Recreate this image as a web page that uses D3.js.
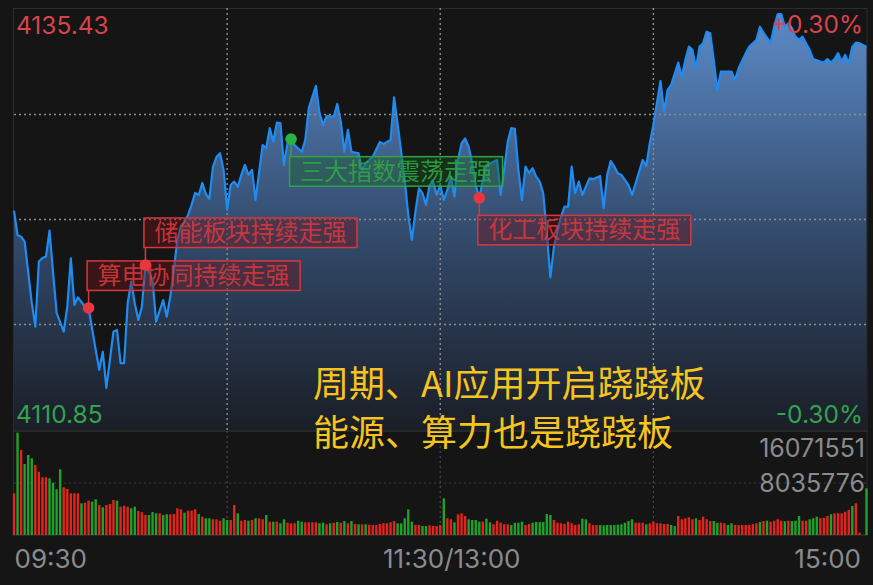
<!DOCTYPE html>
<html>
<head>
<meta charset="utf-8">
<script src="https://cdn.jsdelivr.net/npm/d3@7"></script>
<style>
html, body { margin: 0; padding: 0; background: #151515; }
svg { display: block; }
</style>
</head>
<body>
<div id="chart"></div>
<script>
// minute index: 0 = 09:30, 120 = 11:30/13:00, 240 = 15:00
const lineMinutes = [0,1,2,3,5,6,7,8,9,10,11,12,14,15,16,17,18,20,21,23,24,25,26,27,28,29,30,31,32,33,34,35,36,37,39,40,42,43,44,45,46,47,48,49,50,51,52,53,54,55,56,57,58,59,60,61,62,63,64,65,66,67,68,70,71,72,73,74,75,76,77,78,79,81,82,83,85,86,87,88,90,91,92,93,94,95,97,98,99,101,103,104,106,107,108,110,111,112,113,114,115,116,117,118,119,120,121,122,123,124,125,126,127,128,129,130,131,132,133,135,136,137,138,139,140,141,142,143,144,145,146,147,148,149,150,151,152,154,155,156,157,158,159,160,162,163,165,166,167,168,169,170,171,173,174,175,177,178,179,180,182,183,184,185,187,188,189,190,191,192,193,194,195,196,197,198,199,202,203,204,206,207,209,210,211,213,214,215,216,217,218,219,220,221,222,224,225,227,228,229,230,231,232,233,234,235,236,237,238,240];
const linePrices = [4123.63,4122.21,4122.11,4121.82,4118.25,4116.87,4120.66,4120.87,4120.95,4122.46,4120.00,4117.67,4116.58,4118.03,4120.85,4118.13,4118.58,4118.03,4117.96,4115.51,4114.35,4115.41,4113.30,4114.93,4116.58,4116.68,4114.74,4114.74,4118.23,4119.49,4118.23,4117.26,4118.03,4120.46,4119.59,4117.16,4118.42,4117.45,4118.62,4120.17,4121.92,4122.74,4122.97,4123.38,4123.96,4124.66,4124.54,4125.24,4124.60,4124.31,4126.17,4126.75,4126.97,4126.00,4123.67,4125.12,4125.32,4125.02,4125.71,4126.29,4125.71,4126.00,4124.25,4127.45,4127.26,4128.43,4127.65,4128.75,4128.72,4126.29,4127.55,4127.79,4127.45,4127.06,4127.74,4129.61,4130.89,4129.32,4128.62,4129.14,4129.10,4129.84,4128.79,4127.06,4128.33,4127.06,4126.97,4126.00,4126.39,4126.77,4127.63,4127.51,4127.74,4130.22,4128.68,4125.41,4123.38,4121.92,4123.55,4124.93,4124.64,4123.96,4125.12,4125.32,4124.54,4125.12,4124.25,4124.83,4125.61,4124.44,4126.58,4127.55,4127.84,4127.35,4126.39,4125.12,4124.37,4125.41,4126.29,4126.48,4126.58,4124.54,4126.00,4127.65,4128.43,4128.39,4126.00,4124.25,4126.19,4125.81,4126.10,4125.61,4125.32,4124.64,4122.31,4119.74,4121.53,4123.28,4123.86,4123.86,4126.19,4124.64,4125.32,4124.54,4125.51,4125.46,4125.65,4123.77,4125.71,4126.52,4126.19,4125.81,4125.71,4125.12,4124.54,4125.22,4126.58,4126.23,4127.55,4128.62,4131.18,4129.39,4130.66,4130.95,4132.25,4131.43,4132.40,4133.18,4132.99,4131.92,4133.18,4133.38,4134.05,4133.96,4132.40,4130.66,4131.72,4131.72,4131.24,4131.92,4132.80,4133.18,4133.57,4134.34,4134.00,4133.38,4134.34,4135.08,4135.08,4134.34,4134.54,4134.25,4133.76,4133.57,4133.76,4132.99,4132.45,4132.31,4132.25,4132.45,4132.25,4132.45,4132.80,4132.31,4132.70,4132.21,4133.18,4133.41,4133.38,4133.18];

// one bar per minute, r = up, g = down; volumes in thousands
const volDir = ("rgrgggrrrr" + "ggggrrrrrg" + "rrggrgrrrg" + "rrrggrrrgg" + "grggrrrrgr" +
                "rrgrggrrrg" + "grrgrrgrgr" + "rgrgrggrrr" + "ggrrrrggrg" + "rgrgrgrgrg" +
                "rrrrrrrrgg" + "gggrrggrrr" + "rgrrgrrrgg" + "ggrggrrrrr" + "ggggrrgggg" +
                "ggrrrrrrrr" + "ggrrrggggg" + "gggggrrrgr" + "rrrrrggrrr" + "rrgrrrrggr" +
                "rggrrrrrrr" + "grgrrrrgrg" + "ggrrgggrrr" + "grrrrrgrrr" + "g").split('');
const volThousands = [6440,15810,13140,10970,12360,11850,10820,9780,8920,8920,
  8760,8080,7060,10150,7370,7110,6440,6440,6440,4900,
  4990,5300,5150,5520,4640,4280,4640,4790,5410,5300,
  4370,4530,4370,4130,4370,3710,3510,3090,3090,3550,
  3350,3350,3090,3200,3200,3250,4130,3970,3450,3760,
  3760,3970,3250,2830,2580,2580,2430,2430,2210,2580,
  2320,2320,4640,3350,2210,2320,2210,2320,2580,2580,
  2430,3090,2060,2060,2060,1810,2430,1900,1810,1810,
  2210,2060,1960,1960,1960,1960,1810,1900,1650,1810,
  1900,2010,1900,2160,1810,2160,1700,1650,1650,1650,
  1590,1550,1550,1700,1810,1810,1960,2160,1810,1810,
  2580,3970,2060,1550,1550,1390,1390,1500,1390,1390,
  1550,5670,2580,2430,1960,3200,3350,2940,2430,2320,
  2320,2060,2060,2520,1960,1650,2210,1900,1650,1650,
  1550,1900,1900,2060,1550,1700,1900,2010,2010,2010,
  3250,3090,2320,1900,1810,1700,2060,1810,1550,1650,
  2520,2430,1810,1550,1550,1550,1500,1550,1550,1550,
  1590,1650,1900,2160,2430,1900,1900,1900,1650,1810,
  2060,1810,1810,1700,1700,1550,1390,2940,2430,2580,
  2740,2430,2580,2320,2830,2430,2160,2160,1900,1900,
  1810,1550,1810,1550,1550,1550,1550,1550,1700,1810,
  2010,2160,2210,2060,2210,2430,2210,2120,2210,2160,
  2210,2940,2210,2210,2430,2580,2830,2580,2670,2940,
  3200,3350,3350,3350,3600,3860,4480,4900,360,0,
  7220];

const priceHigh = 4135.43;
const priceLow = 4110.85;
const prevClose = 4123.14;
const pctLabels = ['+0.30%', '-0.30%'];
const volTicks = [16071551, 8035776];
const timeTicks = [0, 120, 240];
const timeLabels = ['09:30', '11:30/13:00', '15:00'];

const notes = [
    { minute: 21, text: '算电协同持续走强', up: true, above: true },
    { minute: 37, text: '储能板块持续走强', up: true, above: true },
    { minute: 78, text: '三大指数震荡走强', up: false, above: false },
    { minute: 131, text: '化工板块持续走强', up: true, above: false }
];
const captions = ['周期、AI应用开启跷跷板', '能源、算力也是跷跷板'];

const NUM = "Inter, 'Noto Sans', sans-serif";
const CJK = "'Noto Sans CJK SC', 'Noto Sans', sans-serif";
const RED = '#d9434a', GREEN = '#34a14f', GRAY = '#8b8b8f';

const chartW = 873, chartH = 585;
const plotLeft = 14, plotRight = 866.5, plotTop = 8, priceBottom = 430, volTop = 431, volBottom = 535;

const svg = d3.select('#chart').append('svg')
    .attr('width', chartW)
    .attr('height', chartH);

svg.append('rect').attr('width', chartW).attr('height', chartH).attr('fill', '#151515');

const x = d3.scaleLinear().domain([0, 240]).range([plotLeft, plotRight]);
const y = d3.scaleLinear().domain([priceLow, priceHigh]).range([priceBottom, plotTop]);
const yVol = d3.scaleLinear().domain([0, volTicks[0]]).range([volBottom, volTop]);

const points = lineMinutes.map((m, i) => ({ minute: m, price: linePrices[i] }));

// frame
const frame = svg.append('g').attr('stroke', '#2c2c2c').attr('stroke-width', 1).attr('fill', 'none');
frame.append('line').attr('x1', 13).attr('x2', 867).attr('y1', plotTop + 0.5).attr('y2', plotTop + 0.5);
frame.append('line').attr('x1', 13.5).attr('x2', 13.5).attr('y1', plotTop).attr('y2', volBottom);
frame.append('line').attr('x1', 867).attr('x2', 867).attr('y1', plotTop).attr('y2', volBottom);
svg.append('line').attr('x1', 13).attr('x2', 867).attr('y1', volTop).attr('y2', volTop)
    .attr('stroke', '#3a3a3a').attr('stroke-width', 1.2);
svg.append('line').attr('x1', 13).attr('x2', 867).attr('y1', volBottom).attr('y2', volBottom)
    .attr('stroke', '#3a3a3a').attr('stroke-width', 1.2);

// area gradient
const defs = svg.append('defs');
const grad = defs.append('linearGradient')
    .attr('id', 'areaFill')
    .attr('gradientUnits', 'userSpaceOnUse')
    .attr('x1', 0).attr('x2', 0).attr('y1', plotTop).attr('y2', priceBottom);
grad.append('stop').attr('offset', '0%').attr('stop-color', '#5d8cc9');
grad.append('stop').attr('offset', '55%').attr('stop-color', '#32496a');
grad.append('stop').attr('offset', '100%').attr('stop-color', '#1a1e26');

const area = d3.area()
    .x(d => x(d.minute))
    .y0(priceBottom)
    .y1(d => y(d.price));
svg.append('path').datum(points).attr('d', area).attr('fill', 'url(#areaFill)');

// grid
const grid = svg.append('g').attr('fill', 'none');
const midPrices = [(priceHigh + prevClose) / 2, prevClose, (priceLow + prevClose) / 2];
grid.selectAll('line.h').data(midPrices).enter().append('line')
    .attr('class', 'h')
    .attr('x1', plotLeft).attr('x2', 867)
    .attr('y1', d => Math.round(y(d)) + 0.5).attr('y2', d => Math.round(y(d)) + 0.5)
    .attr('stroke', '#8e8e8e').attr('stroke-width', 1.4).attr('stroke-dasharray', '2,3');
grid.selectAll('line.v').data([60, 120, 180]).enter().append('line')
    .attr('class', 'v')
    .attr('x1', d => x(d)).attr('x2', d => x(d))
    .attr('y1', plotTop).attr('y2', priceBottom)
    .attr('stroke', '#8e8e8e').attr('stroke-width', 1.4).attr('stroke-dasharray', '2,3');
grid.selectAll('line.vv').data([60, 120, 180]).enter().append('line')
    .attr('class', 'vv')
    .attr('x1', d => x(d)).attr('x2', d => x(d))
    .attr('y1', volTop).attr('y2', volBottom)
    .attr('stroke', '#4a4a4a').attr('stroke-width', 1.2).attr('stroke-dasharray', '2,3');
grid.append('line')
    .attr('x1', plotLeft).attr('x2', 867)
    .attr('y1', yVol(volTicks[1])).attr('y2', yVol(volTicks[1]))
    .attr('stroke', '#3c3c3c').attr('stroke-width', 1.2).attr('stroke-dasharray', '2,3');

// price line
const line = d3.line()
    .x(d => x(d.minute))
    .y(d => y(d.price));
svg.append('path').datum(points)
    .attr('d', line)
    .attr('fill', 'none')
    .attr('stroke', '#1e8cf0')
    .attr('stroke-width', 2.2)
    .attr('stroke-linejoin', 'round');

// volume bars
const bars = volThousands.map((v, i) => ({ minute: i, vol: v * 1000, up: volDir[i] === 'r' }));
svg.append('g').selectAll('rect').data(bars).enter().append('rect')
    .attr('x', d => x(d.minute) - 1.2)
    .attr('width', 2.4)
    .attr('y', d => yVol(d.vol))
    .attr('height', d => volBottom - yVol(d.vol))
    .attr('fill', d => d.up ? '#e3241d' : '#20a12a');

// annotations
const noteG = svg.append('g');
notes.forEach(n => {
    const idx = lineMinutes.indexOf(n.minute);
    const cx = x(n.minute), cy = y(linePrices[idx]);
    const color = n.up ? '#d6383e' : '#2fa544';
    const fill = n.up ? 'rgba(110,22,26,0.42)' : 'rgba(24,92,36,0.40)';
    const boxH = 29.5, boxW = 213, gap = 17.5;
    const boxTop = n.above ? cy - gap - boxH : cy + gap;
    const boxLeft = cx - 1.5;
    noteG.append('line')
        .attr('x1', cx).attr('x2', cx)
        .attr('y1', cy).attr('y2', n.above ? boxTop + boxH : boxTop)
        .attr('stroke', color).attr('stroke-width', 1.5);
    noteG.append('rect')
        .attr('x', boxLeft).attr('y', boxTop)
        .attr('width', boxW).attr('height', boxH)
        .attr('fill', fill)
        .attr('stroke', color).attr('stroke-width', 1.5);
    noteG.append('text')
        .attr('x', boxLeft + boxW / 2).attr('y', boxTop + 23)
        .attr('text-anchor', 'middle')
        .attr('font-family', CJK).attr('font-size', 24)
        .attr('fill', color).attr('fill-opacity', 0.9)
        .text(n.text);
    noteG.append('circle')
        .attr('cx', cx).attr('cy', cy).attr('r', 5.8)
        .attr('fill', n.up ? '#e8383e' : '#2bb043');
});

// price / pct labels
const labels = svg.append('g').attr('font-family', NUM).attr('font-size', 24.5);
labels.append('text').attr('x', 16).attr('y', 34).attr('fill', RED).text(priceHigh.toFixed(2));
labels.append('text').attr('x', 863).attr('y', 33).attr('text-anchor', 'end').attr('fill', RED).text(pctLabels[0]);
labels.append('text').attr('x', 16).attr('y', 423).attr('fill', GREEN).text(priceLow.toFixed(2));
labels.append('text').attr('x', 863).attr('y', 423).attr('text-anchor', 'end').attr('fill', GREEN).text(pctLabels[1]);

// volume labels
svg.append('g').selectAll('text').data(volTicks).enter().append('text')
    .attr('x', 865)
    .attr('y', (d, i) => i === 0 ? yVol(d) + 26 : yVol(d) + 9)
    .attr('text-anchor', 'end')
    .attr('font-family', NUM).attr('font-size', 25)
    .attr('fill', GRAY)
    .text(d => d);

// time axis
const xAxis = d3.axisBottom(x)
    .tickValues(timeTicks)
    .tickSize(0)
    .tickFormat((d, i) => timeLabels[i]);
const axisG = svg.append('g')
    .attr('transform', `translate(0,${volBottom})`)
    .call(xAxis);
axisG.select('.domain').remove();
axisG.selectAll('text')
    .attr('font-family', NUM).attr('font-size', 26)
    .attr('fill', GRAY)
    .attr('dy', null)
    .attr('y', 33)
    .attr('text-anchor', (d, i) => i === 0 ? 'start' : (i === 2 ? 'end' : 'middle'))
    .attr('dx', (d, i) => i === 0 ? 0 : (i === 2 ? -6 : 11));

// captions
svg.append('g').selectAll('text').data(captions).enter().append('text')
    .attr('x', 313)
    .attr('y', (d, i) => 397 + i * 49)
    .attr('font-family', CJK).attr('font-size', 36)
    .attr('fill', '#f6c41f')
    .text(d => d);
</script>
</body>
</html>
